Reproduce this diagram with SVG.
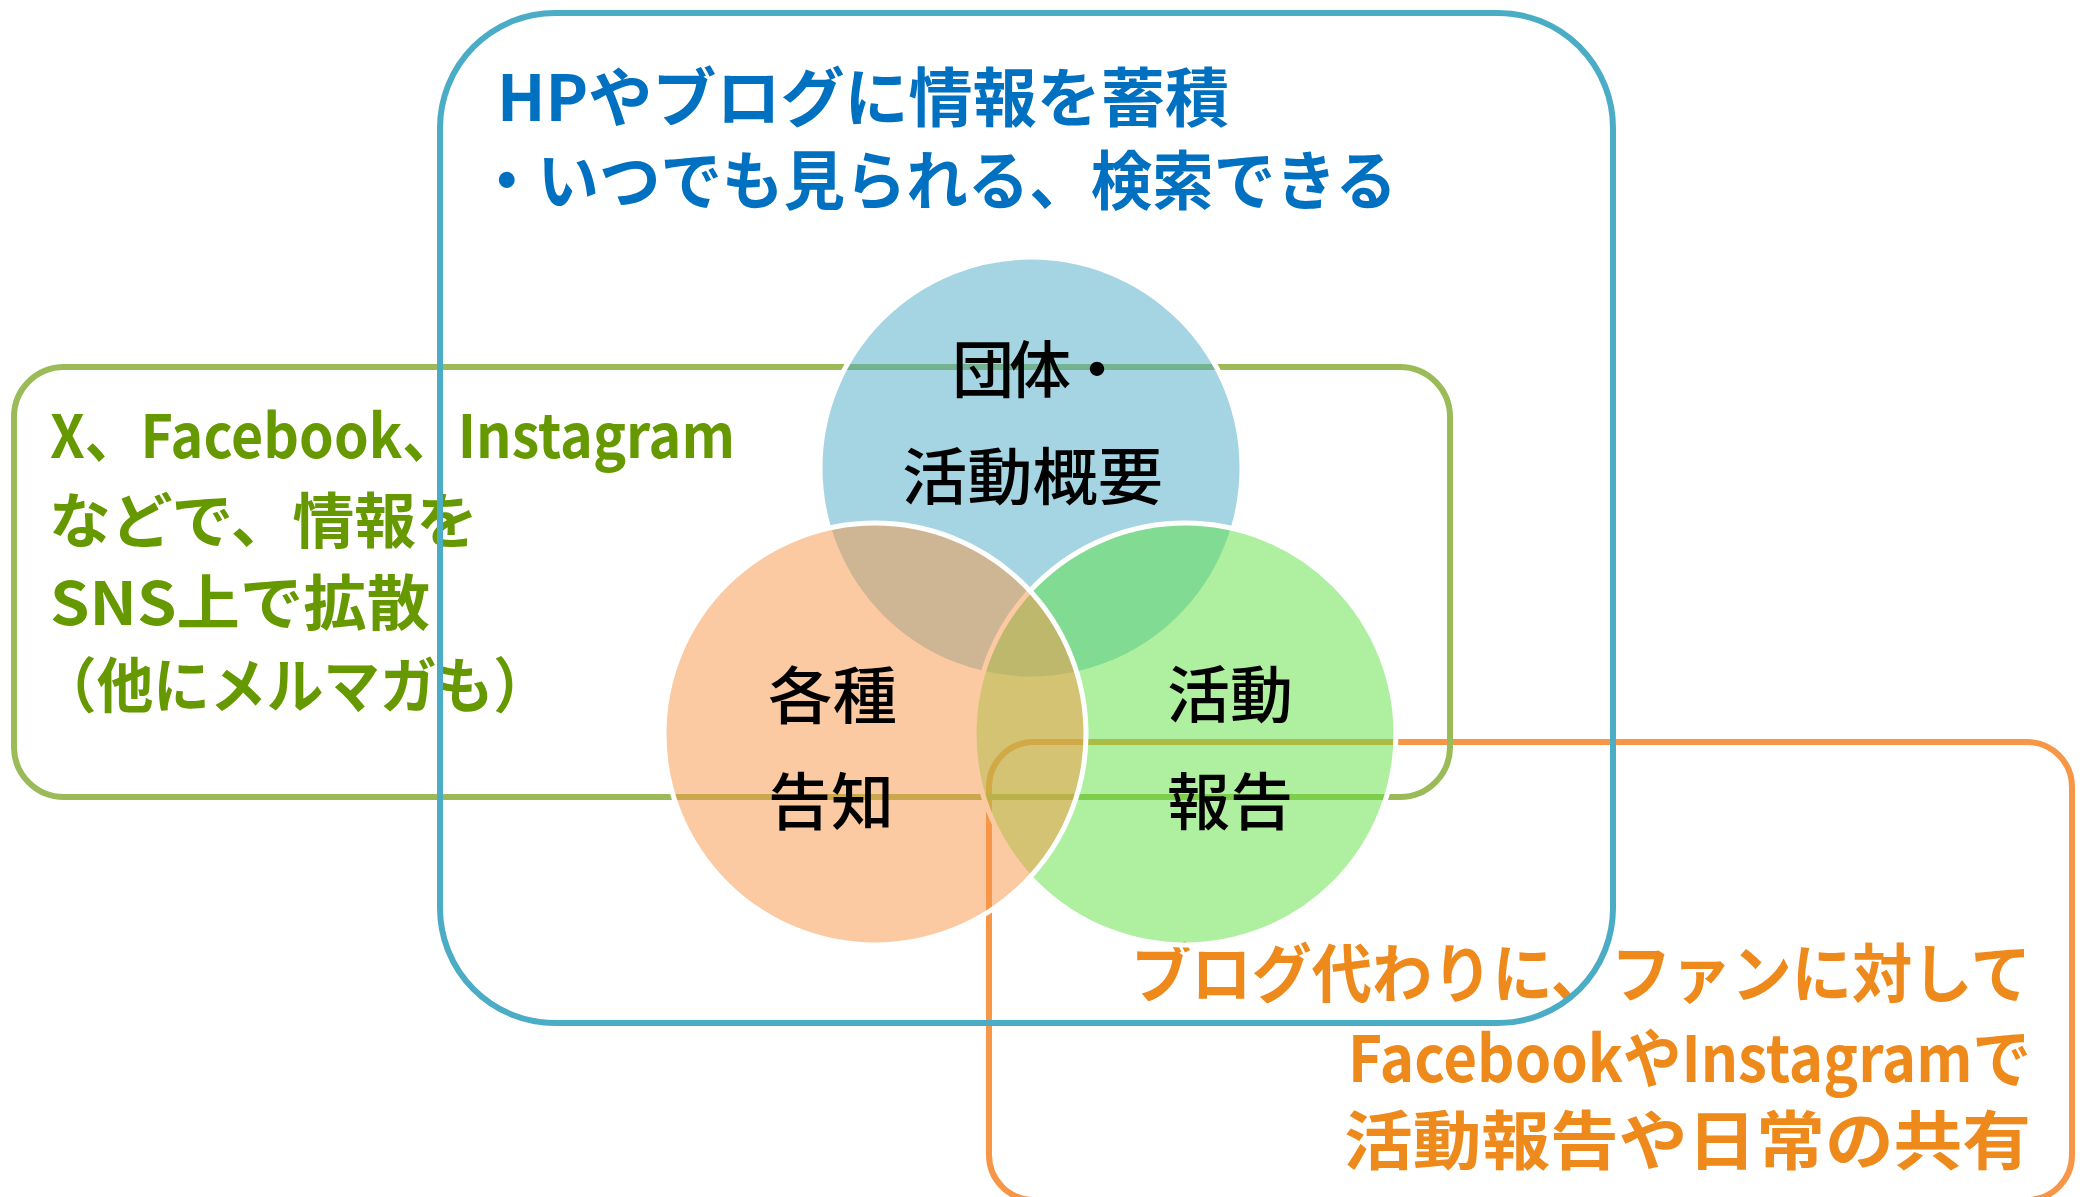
<svg xmlns="http://www.w3.org/2000/svg" width="2080" height="1197" viewBox="0 0 2080 1197">
<style>
.box{fill:none;stroke-width:6}
.t{font-family:"Noto Sans CJK JP","Noto Sans",sans-serif;font-weight:bold}
.lbl{font-family:"Noto Sans CJK JP","Noto Sans",sans-serif;font-weight:500;font-size:62px;fill:#000}
.c{stroke:#fff;stroke-width:5}
</style>
<rect width="2080" height="1197" fill="#fff"/>
<g id="box-orange">
<rect class="box" x="989" y="742" width="1083" height="458" rx="45" stroke="#f79646"/>
<g class="t" fill="#ee8a1c" font-size="64">
<text x="1131" y="997" textLength="900" lengthAdjust="spacingAndGlyphs">ブログ代わりに、ファンに対して</text>
<text x="1348" y="1082" textLength="683" lengthAdjust="spacingAndGlyphs">FacebookやInstagramで</text>
<text x="1344" y="1164" textLength="687" lengthAdjust="spacingAndGlyphs">活動報告や日常の共有</text>
</g>
</g>
<g id="box-green">
<rect class="box" x="14" y="367" width="1436" height="430" rx="50" stroke="#9bbb59"/>
<g class="t" fill="#669900" font-size="60">
<text x="50" y="458" textLength="685" lengthAdjust="spacingAndGlyphs">X、Facebook、Instagram</text>
<text x="49" y="543" textLength="429" lengthAdjust="spacingAndGlyphs">などで、情報を</text>
<text x="50" y="625" textLength="380" lengthAdjust="spacingAndGlyphs">SNS上で拡散</text>
<text x="40" y="708" textLength="510" lengthAdjust="spacingAndGlyphs">（他にメルマガも）</text>
</g>
</g>
<g id="box-blue">
<rect class="box" x="440" y="13" width="1173" height="1010" rx="115" stroke="#4bacc6"/>
<g class="t" fill="#0070c0" font-size="64">
<text x="497" y="121" textLength="732" lengthAdjust="spacingAndGlyphs">HPやブログに情報を蓄積</text>
<text x="476" y="204" textLength="921" lengthAdjust="spacingAndGlyphs">・いつでも見られる、検索できる</text>
</g>
</g>
<g id="connectors"/>
<g id="circle-overview">
<circle class="c" cx="1031" cy="468" r="211" fill="rgba(75,172,198,0.5)"/>
</g>
<g id="circle-report">
<circle class="c" cx="1185" cy="734" r="211" fill="rgba(95,225,65,0.5)"/>
</g>
<g id="circle-notice">
<circle class="c" cx="875" cy="734" r="211" fill="rgba(247,150,70,0.5)"/>
</g>
<g id="labels">
<text class="lbl" x="952" y="393" textLength="176" lengthAdjust="spacing">団体・</text>
<text class="lbl" x="902" y="500" textLength="261" lengthAdjust="spacingAndGlyphs">活動概要</text>
<text class="lbl" x="768" y="719" textLength="129" lengthAdjust="spacingAndGlyphs">各種</text>
<text class="lbl" x="768" y="825" textLength="126" lengthAdjust="spacingAndGlyphs">告知</text>
<text class="lbl" x="1167" y="718" textLength="126" lengthAdjust="spacingAndGlyphs">活動</text>
<text class="lbl" x="1167" y="825" textLength="126" lengthAdjust="spacingAndGlyphs">報告</text>
</g>
</svg>
